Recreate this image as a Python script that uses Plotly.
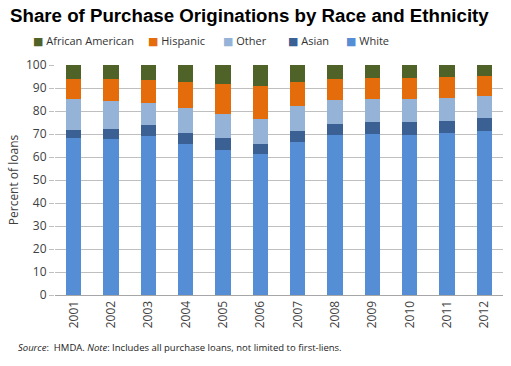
import plotly.graph_objects as go

years = ["2001", "2002", "2003", "2004", "2005", "2006", "2007", "2008", "2009", "2010", "2011", "2012"]
white = [68.4, 67.8, 69.3, 65.8, 63.0, 61.3, 66.7, 69.6, 70.1, 69.6, 70.4, 71.3]
asian = [3.3, 4.4, 4.6, 4.6, 5.1, 4.3, 4.6, 4.7, 5.1, 5.6, 5.3, 5.7]
other = [13.5, 12.1, 9.6, 11.0, 10.5, 10.9, 11.0, 10.5, 10.0, 10.0, 10.0, 9.5]
hispanic = [8.7, 9.6, 10.0, 11.2, 13.1, 14.4, 10.5, 9.1, 9.3, 9.3, 9.2, 8.9]
african_american = [6.1, 6.1, 6.5, 7.4, 8.3, 9.1, 7.2, 6.1, 5.5, 5.5, 5.1, 4.6]
y_ticks = [0, 10, 20, 30, 40, 50, 60, 70, 80, 90, 100]

series = [
    ("White", white, "#558ED5"),
    ("Asian", asian, "#3A6094"),
    ("Other", other, "#95B3D7"),
    ("Hispanic", hispanic, "#E46C0A"),
    ("African American", african_american, "#4F6228"),
]

fig = go.Figure()
for name, vals, color in series:
    fig.add_trace(go.Bar(x=years, y=vals, name=name, marker=dict(color=color, line=dict(width=0)),
                         showlegend=False))

L, R, T, B, W, H = 55, 8, 65, 71, 511, 366
PW, PH = W - L - R, H - T - B

fig.update_layout(
    barmode="stack",
    bargap=0.59,
    width=W, height=H,
    margin=dict(l=L, r=R, t=T, b=B, autoexpand=False),
    paper_bgcolor="white", plot_bgcolor="white",
    font=dict(family="Open Sans, DejaVu Sans, sans-serif", size=11, color="#404040"),
    title=dict(text="<b>Share of Purchase Originations by Race and Ethnicity</b>",
               x=10 / W, xref="container", xanchor="left", y=1 - 15 / H, yref="container", yanchor="middle",
               font=dict(family="Liberation Sans, Arial, sans-serif", size=18.7, color="black")),
    showlegend=False,
)

# legend built as text entries (order as in the reference: reversed stack order)
legend_px = [345, 287, 222, 147, 32]
for (name, vals, color), px in zip(series, legend_px):
    fig.add_annotation(text=f'<span style="color:{color}">■</span> {name}',
                       xref="paper", yref="paper", x=(px - L) / PW, y=(H - B - 41) / PH,
                       xanchor="left", yanchor="middle", showarrow=False,
                       font=dict(size=11, color="#333333"), borderpad=0)

fig.update_yaxes(range=[0, 100], tickvals=y_ticks, showgrid=True, gridcolor="#BFBFBF", gridwidth=1,
                 zeroline=False, showline=False, ticks="outside", ticklen=5, tickcolor="#BFBFBF",
                 tickfont=dict(size=12, color="#404040"),
                 title=dict(text="Percent of loans", font=dict(size=12, color="#404040"), standoff=4))
fig.update_xaxes(tickangle=-90, showline=True, linecolor="#A6A6A6", linewidth=1, ticks="",
                 tickfont=dict(size=12, color="#404040"))
fig.add_annotation(text="<i>Source</i>:  HMDA. <i>Note</i>: Includes all purchase loans, not limited to first-liens.",
                   xref="paper", yref="paper", x=(17 - L) / PW, y=(H - B - 347) / PH, xanchor="left", yanchor="middle",
                   showarrow=False, font=dict(size=9.5, color="#222222"), borderpad=0)
fig.write_html("out.html", config={"displayModeBar": False},
               post_script="document.body.style.margin='0';")
